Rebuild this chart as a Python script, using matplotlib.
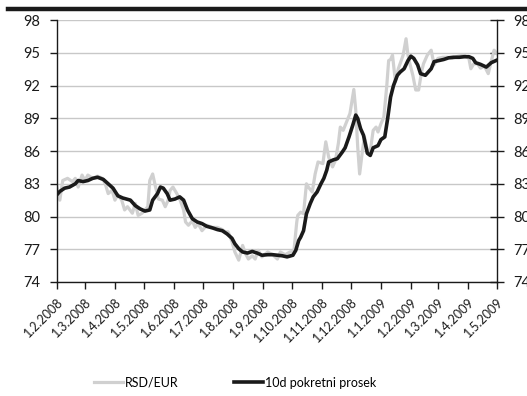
import matplotlib
matplotlib.use("Agg")
import matplotlib.pyplot as plt
import pandas as pd

plt.rcParams['font.family'] = ['Lato', 'DejaVu Sans']

START = pd.Timestamp("2008-02-01")

# Daily RSD/EUR exchange rate (days since 1 Feb 2008, value)
rate_days = [0, 3, 6, 11, 16, 19, 22, 26, 29, 32, 37, 42, 47, 50, 53, 57, 60, 63,
             67, 70, 73, 78, 81, 84, 88, 91, 94, 96, 99, 102, 105, 109, 112, 115,
             117, 120, 124, 127, 131, 133, 136, 140, 143, 146, 150, 155, 161, 166,
             171, 174, 177, 181, 184, 188, 192, 195, 198, 202, 205, 208, 212, 218,
             223, 228, 231, 236, 241, 245, 248, 249, 252, 255, 258, 260, 264, 267,
             270, 275, 278, 281, 285, 288, 291, 293, 296, 301, 303, 307, 309, 311,
             313, 316, 318, 321, 324, 327, 330, 332, 335, 338, 341, 343, 345, 347,
             350, 353, 358, 361, 363, 365, 368, 371, 374, 377, 379, 383, 387, 390,
             394, 399, 404, 409, 415, 421, 426, 428, 431, 435, 438, 442, 446, 449,
             452, 455]
rate_vals = [82.7, 81.5, 83.3, 83.5, 83.2, 83.5, 82.7, 83.8, 83.3, 83.8, 83.5, 83.7,
             83.5, 83.0, 82.1, 82.4, 81.5, 82.0, 81.5, 80.6, 80.9, 80.3, 81.2, 80.1,
             80.3, 80.6, 80.9, 83.3, 83.9, 82.7, 81.6, 81.5, 80.9, 81.5, 82.4, 82.7,
             82.1, 81.6, 80.6, 79.5, 79.2, 79.6, 79.0, 79.35, 78.7, 79.2, 79.0, 79.0,
             78.8, 78.6, 78.6, 77.7, 76.75, 76.0, 77.35, 76.6, 76.1, 76.4, 76.1, 76.9,
             76.3, 76.75, 76.5, 76.1, 76.75, 76.5, 76.75, 76.8, 79.5, 80.1, 80.4, 80.25,
             83.0, 82.7, 82.25, 83.9, 85.0, 84.85, 86.85, 85.45, 84.55, 85.15, 86.7,
             88.2, 87.9, 89.0, 89.45, 91.65, 89.75, 86.4, 83.9, 86.1, 87.3, 86.1, 86.0,
             87.9, 88.2, 87.75, 88.5, 89.1, 91.9, 94.3, 94.4, 94.8, 92.35, 93.55, 94.8,
             96.3, 94.8, 94.0, 92.95, 91.6, 91.6, 93.25, 94.0, 94.8, 95.25, 93.9, 94.5,
             94.6, 94.6, 94.5, 94.7, 94.8, 94.5, 93.55, 94.0, 94.0, 93.6, 93.8, 93.1,
             94.2, 95.25, 94.95]

# 10-day moving average
ma_days = [0, 3, 8, 13, 19, 22, 27, 32, 37, 42, 48, 53, 58, 63, 68, 76, 81, 86, 91,
           96, 99, 104, 107, 110, 114, 117, 122, 127, 131, 135, 140, 145, 150, 155,
           161, 166, 171, 176, 181, 184, 188, 192, 197, 202, 207, 212, 218, 223, 228,
           233, 238, 244, 247, 250, 252, 255, 258, 262, 265, 269, 273, 276, 279, 281,
           286, 290, 295, 298, 302, 306, 309, 311, 314, 317, 321, 324, 327, 332, 335,
           339, 342, 345, 348, 352, 355, 359, 363, 366, 369, 373, 376, 381, 387, 390,
           395, 400, 405, 410, 416, 421, 426, 430, 433, 438, 444, 449, 454]
ma_vals = [82.0, 82.3, 82.6, 82.7, 83.0, 83.3, 83.2, 83.3, 83.5, 83.6, 83.4, 83.0,
           82.6, 81.9, 81.7, 81.5, 81.0, 80.7, 80.5, 80.6, 81.5, 82.1, 82.7, 82.6,
           82.1, 81.5, 81.6, 81.8, 81.5, 80.6, 79.8, 79.5, 79.35, 79.1, 78.95, 78.8,
           78.7, 78.4, 78.0, 77.5, 77.05, 76.75, 76.65, 76.8, 76.65, 76.45, 76.5,
           76.5, 76.45, 76.4, 76.3, 76.45, 76.9, 77.8, 78.1, 78.7, 80.25, 81.2, 81.8,
           82.25, 83.0, 83.5, 84.25, 85.0, 85.2, 85.3, 85.9, 86.3, 87.3, 88.4, 89.3,
           89.0, 88.05, 87.45, 85.8, 85.6, 86.3, 86.5, 87.05, 87.3, 89.0, 90.95, 92.0,
           92.95, 93.25, 93.55, 94.3, 94.7, 94.5, 93.9, 93.1, 92.95, 93.55, 94.2, 94.3,
           94.4, 94.55, 94.6, 94.6, 94.65, 94.65, 94.5, 94.1, 93.95, 93.7, 94.1, 94.3]

y_ticks = [74, 77, 80, 83, 86, 89, 92, 95, 98]
tick_dates = ["2008-02-01", "2008-03-01", "2008-04-01", "2008-05-01", "2008-06-01",
              "2008-07-01", "2008-08-01", "2008-09-01", "2008-10-01", "2008-11-01",
              "2008-12-01", "2009-01-01", "2009-02-01", "2009-03-01", "2009-04-01",
              "2009-05-01"]
tick_labels = ["1.2.2008", "1.3.2008", "1.4.2008", "1.5.2008", "1.6.2008",
               "1.7.2008", "1.8.2008", "1.9.2008", "1.10.2008", "1.11.2008",
               "1.12.2008", "1.1.2009", "1.2.2009", "1.3.2009", "1.4.2009",
               "1.5.2009"]

rate_x = [START + pd.Timedelta(days=d) for d in rate_days]
ma_x = [START + pd.Timedelta(days=d) for d in ma_days]
ticks_x = pd.to_datetime(tick_dates)

fig = plt.figure(figsize=(5.27, 3.96), dpi=100)
ax = fig.add_axes([0.108, 0.288, 0.835, 0.661])

# heavy rule across the top of the panel
fig.add_artist(plt.Line2D([0.015, 1.0], [0.977, 0.977], color='#1a1a1a',
                          linewidth=3.2, transform=fig.transFigure))

rate_line, = ax.plot(rate_x, rate_vals, color='#d0d0d0', linewidth=2.3,
                     label='RSD/EUR', solid_joinstyle='round', zorder=2)
ma_line, = ax.plot(ma_x, ma_vals, color='#1a1a1a', linewidth=2.6,
                   label='10d pokretni prosek', solid_joinstyle='round', zorder=3)

ax.set_ylim(74, 98)
ax.set_xlim(ticks_x[0], ticks_x[-1])
ax.set_yticks(y_ticks)
ax.set_xticks(ticks_x)
ax.set_xticklabels(tick_labels, rotation=45, ha='right', rotation_mode='anchor')

ax.yaxis.grid(True, color='#c8c8c8', linewidth=1.0)
ax.set_axisbelow(True)

ax.spines['top'].set_visible(False)
for s in ('left', 'right', 'bottom'):
    ax.spines[s].set_color('#1a1a1a')
    ax.spines[s].set_linewidth(1.0)

ax.tick_params(axis='y', which='both', left=True, right=True, labelleft=True,
               labelright=True, direction='out', length=5, width=1,
               color='#1a1a1a', labelsize=10.5, pad=7, labelcolor='#1a1a1a')
ax.tick_params(axis='x', direction='out', length=5, width=1, color='#1a1a1a',
               labelsize=9, pad=5, labelcolor='#1a1a1a')
# right-hand ticks cross the spine
for t in ax.yaxis.get_major_ticks():
    t.tick2line.set_marker('_')
    t.tick2line.set_markersize(10)

# one legend entry per series, placed side by side below the axis labels
legend_kw = dict(loc='center left', frameon=False, fontsize=9, handlelength=2.3,
                 handletextpad=0.15, borderpad=0, borderaxespad=0)
leg1 = fig.legend(handles=[rate_line], bbox_to_anchor=(0.178, 0.034), **legend_kw)
leg2 = fig.legend(handles=[ma_line], bbox_to_anchor=(0.444, 0.034), **legend_kw)

fig.savefig('out.png', dpi=100)
